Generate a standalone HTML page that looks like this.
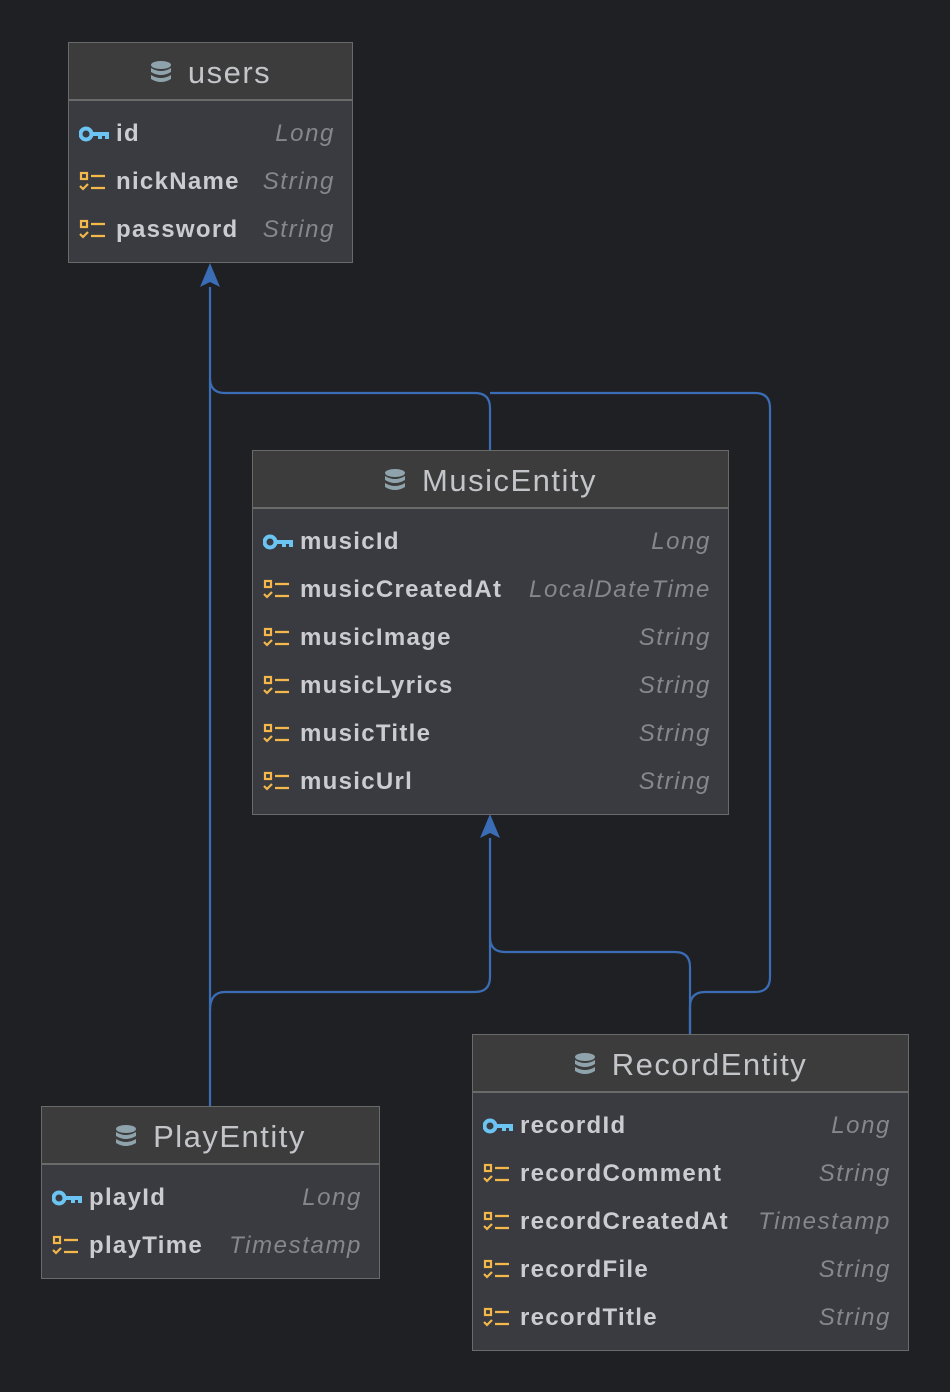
<!DOCTYPE html>
<html><head><meta charset="utf-8"><style>
html,body{margin:0;padding:0;background:#1f2024;width:950px;height:1392px;overflow:hidden;font-family:"Liberation Sans",sans-serif}
.t{position:absolute;background:#393b40;border:1px solid #6a6a6a;box-sizing:border-box}
.h{height:58px;background:#3c3c3c;border-bottom:2px solid #6a6a6a;box-sizing:border-box;display:flex;align-items:center;justify-content:center;color:#c3c5c9;font-size:31px;letter-spacing:1.5px;padding-top:4px}
.h svg{margin-right:16px}
.r{height:48px;position:relative;display:flex;align-items:center;padding-left:10px}
.r .n{color:#cbccd0;font-weight:bold;font-size:24px;margin-left:7px;letter-spacing:1.3px}
.r .ty{position:absolute;right:17px;color:#85878b;font-style:italic;font-size:24px;letter-spacing:1.6px}
.b{padding-top:9px}
</style></head><body>
<svg width="950" height="1392" style="position:absolute;left:0;top:0">
<g fill="none" stroke="#3a6db5" stroke-width="2.2">
<path d="M210 1106 V287"/>
<path d="M490 450 V408 Q490 393 475 393 H225 Q210 393 210 378"/>
<path d="M690 1034 V1007 Q690 992 705 992 H755 Q770 992 770 977 V408 Q770 393 755 393 H490"/>
<path d="M210 1010 Q210 992 225 992 H475 Q490 992 490 977 V838"/>
<path d="M690 1034 V967 Q690 952 675 952 H505 Q490 952 490 937"/>
</g>
<path d="M210 263 L200 287 L210 282 L220 287Z" fill="#3a6db5"/>
<path d="M490 814 L480 838 L490 833 L500 838Z" fill="#3a6db5"/>
</svg>
<svg width="0" height="0" style="position:absolute"><defs>
<g id="db"><ellipse cx="11" cy="5" rx="10" ry="4" fill="#8fa3ad"/><path d="M1 8 Q11 14 21 8 V12 Q11 18 1 12Z" fill="#8fa3ad"/><path d="M1 15 Q11 21 21 15 V19 Q11 25 1 19Z" fill="#8fa3ad"/></g>
<g id="key"><circle cx="7" cy="10" r="5.5" fill="none" stroke="#6cc4f2" stroke-width="4"/><path d="M12 8 H30 V15 H26 V12 H23 V15 H19 V12 H12Z" fill="#6cc4f2"/></g>
<g id="fl" fill="none" stroke="#f3b74a" stroke-width="2.2"><rect x="2" y="2" width="6" height="6"/><path d="M12 5H26M1 15l3 3 5-5M12 17H26"/></g>
</defs></svg>

<div class="t" style="left:68px;top:42px;width:285px;height:221px">
<div class="h"><svg width="22" height="26"><use href="#db"/></svg>users</div>
<div class="b">
<div class="r"><svg width="30" height="20"><use href="#key"/></svg><span class="n">id</span><span class="ty">Long</span></div>
<div class="r"><svg width="30" height="22"><use href="#fl"/></svg><span class="n">nickName</span><span class="ty">String</span></div>
<div class="r"><svg width="30" height="22"><use href="#fl"/></svg><span class="n">password</span><span class="ty">String</span></div>
</div></div>

<div class="t" style="left:252px;top:450px;width:477px;height:365px">
<div class="h"><svg width="22" height="26"><use href="#db"/></svg>MusicEntity</div>
<div class="b">
<div class="r"><svg width="30" height="20"><use href="#key"/></svg><span class="n">musicId</span><span class="ty">Long</span></div>
<div class="r"><svg width="30" height="22"><use href="#fl"/></svg><span class="n">musicCreatedAt</span><span class="ty">LocalDateTime</span></div>
<div class="r"><svg width="30" height="22"><use href="#fl"/></svg><span class="n">musicImage</span><span class="ty">String</span></div>
<div class="r"><svg width="30" height="22"><use href="#fl"/></svg><span class="n">musicLyrics</span><span class="ty">String</span></div>
<div class="r"><svg width="30" height="22"><use href="#fl"/></svg><span class="n">musicTitle</span><span class="ty">String</span></div>
<div class="r"><svg width="30" height="22"><use href="#fl"/></svg><span class="n">musicUrl</span><span class="ty">String</span></div>
</div></div>

<div class="t" style="left:41px;top:1106px;width:339px;height:173px">
<div class="h"><svg width="22" height="26"><use href="#db"/></svg>PlayEntity</div>
<div class="b">
<div class="r"><svg width="30" height="20"><use href="#key"/></svg><span class="n">playId</span><span class="ty">Long</span></div>
<div class="r"><svg width="30" height="22"><use href="#fl"/></svg><span class="n">playTime</span><span class="ty">Timestamp</span></div>
</div></div>

<div class="t" style="left:472px;top:1034px;width:437px;height:317px">
<div class="h"><svg width="22" height="26"><use href="#db"/></svg>RecordEntity</div>
<div class="b">
<div class="r"><svg width="30" height="20"><use href="#key"/></svg><span class="n">recordId</span><span class="ty">Long</span></div>
<div class="r"><svg width="30" height="22"><use href="#fl"/></svg><span class="n">recordComment</span><span class="ty">String</span></div>
<div class="r"><svg width="30" height="22"><use href="#fl"/></svg><span class="n">recordCreatedAt</span><span class="ty">Timestamp</span></div>
<div class="r"><svg width="30" height="22"><use href="#fl"/></svg><span class="n">recordFile</span><span class="ty">String</span></div>
<div class="r"><svg width="30" height="22"><use href="#fl"/></svg><span class="n">recordTitle</span><span class="ty">String</span></div>
</div></div>
</body></html>
